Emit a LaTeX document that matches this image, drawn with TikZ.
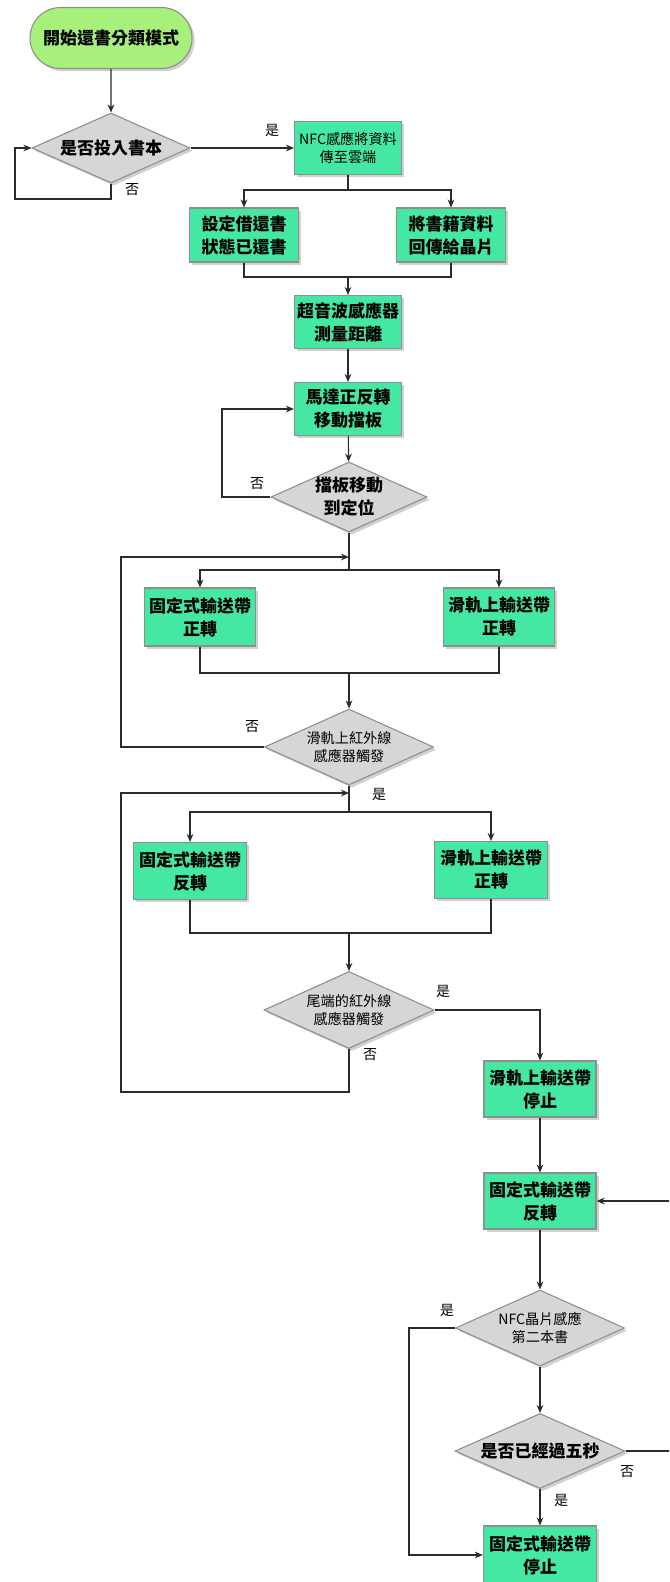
\documentclass[tikz,border=0pt]{standalone}
\usepackage{fontspec}
\setmainfont{Noto Sans CJK TC}
\usetikzlibrary{shapes.geometric,shapes.misc,arrows.meta,shadows}
\definecolor{gbox}{HTML}{45E8A2}
\definecolor{gstart}{HTML}{A7F07B}
\definecolor{gdia}{HTML}{D6D6D6}
\definecolor{bline}{HTML}{8E8E8E}
\definecolor{conn}{HTML}{2B2B2B}
\begin{document}
\begin{tikzpicture}[x=0.75pt,y=-0.75pt,
  shad/.style={drop shadow={shadow xshift=2pt,shadow yshift=-2pt,opacity=0.3,fill=black!60}},
  bigb/.style={font=\fontsize{12.75}{17.25}\selectfont\bfseries},
  smallt/.style={font=\fontsize{10.6}{14}\selectfont},
  lab/.style={font=\fontsize{10.5}{12}\selectfont, inner sep=0pt},
  box/.style={draw=bline, line width=0.8pt, fill=gbox, shad, align=center, inner sep=0pt, bigb},
  dia/.style={diamond, draw=bline, line width=0.8pt, fill=gdia, shad, inner sep=0pt},
  dtext/.style={align=center, inner sep=0pt, bigb},
  dsmall/.style={align=center, inner sep=0pt, smallt},
  ln/.style={draw=conn, line width=0.85pt},
  arr/.style={ln, -{Stealth[length=6pt,width=5pt]}}
]
\fill[white] (0,0) rectangle (669,1582);
\clip (0,0) rectangle (669,1582);

% nodes
\node[rounded rectangle, draw=bline, line width=0.8pt, fill=gstart, shad, minimum width=121.5pt, minimum height=45.75pt, inner sep=0pt, bigb] (start) at (111,38) {開始還書分類模式};
\node[dia, minimum width=118.5pt, minimum height=52.5pt, label={[dtext]center:是否投入書本}] (d1) at (111,148) {};
\node[box, minimum width=80.25pt, minimum height=39.75pt, smallt] (nfc) at (348,148) {NFC感應將資料\\傳至雲端};
\node[box, minimum width=81.75pt, minimum height=40.5pt] (a) at (244,235) {設定借還書\\狀態已還書};
\node[box, minimum width=81.75pt, minimum height=40.5pt] (b) at (451,235) {將書籍資料\\回傳給晶片};
\node[box, minimum width=80.25pt, minimum height=39.75pt] (us) at (348,322) {超音波感應器\\測量距離};
\node[box, minimum width=80.25pt, minimum height=39.75pt] (motor) at (348,409) {馬達正反轉\\移動擋板};
\node[dia, minimum width=117pt, minimum height=52.5pt, label={[dtext]center:擋板移動\\到定位}] (d2) at (349,497) {};
\node[box, minimum width=83.25pt, minimum height=43.5pt] (c) at (200,617) {固定式輸送帶\\正轉};
\node[box, minimum width=83.25pt, minimum height=43.5pt] (dd) at (499,617) {滑軌上輸送帶\\正轉};
\node[dia, minimum width=126.75pt, minimum height=57pt, label={[dsmall]center:滑軌上紅外線\\感應器觸發}] (d3) at (349,747) {};
\node[box, minimum width=84.75pt, minimum height=42.75pt] (e) at (190,871) {固定式輸送帶\\反轉};
\node[box, minimum width=84.75pt, minimum height=42.75pt] (f) at (491,870) {滑軌上輸送帶\\正轉};
\node[dia, minimum width=127.5pt, minimum height=57.75pt, label={[dsmall]center:尾端的紅外線\\感應器觸發}] (d4) at (349,1010) {};
\node[box, minimum width=84pt, minimum height=42pt] (g) at (540,1089) {滑軌上輸送帶\\停止};
\node[box, minimum width=84pt, minimum height=42pt] (h) at (540,1201) {固定式輸送帶\\反轉};
\node[dia, minimum width=126.75pt, minimum height=57pt, label={[dsmall]center:NFC晶片感應\\第二本書}] (d5) at (540,1328) {};
\node[dia, minimum width=127.5pt, minimum height=56.25pt, label={[dtext]center:是否已經過五秒}] (d6) at (540,1451) {};
\node[box, minimum width=85pt, minimum height=43.5pt] (i) at (540,1555) {固定式輸送帶\\停止};

% labels
\node[lab] (l1) at (132,190) {否};
\node[lab] (l2) at (272,130) {是};
\node[lab] (l3) at (257,484) {否};
\node[lab] (l4) at (252,727) {否};
\node[lab] (l5) at (379,794) {是};
\node[lab] (l6) at (443,991) {是};
\node[lab] (l7) at (370,1055) {否};
\node[lab] (l8) at (447,1310) {是};
\node[lab] (l9) at (627,1472) {否};
\node[lab] (l10) at (561,1500) {是};

% coordinates
\coordinate (c1) at (15,199);
\coordinate (s1) at (348,190);
\coordinate (m1) at (348,277);
\coordinate (c2) at (222,497);
\coordinate (j2) at (349,557);
\coordinate (s2) at (349,570);
\coordinate (m2) at (349,673);
\coordinate (c3) at (121,557);
\coordinate (j3) at (349,793);
\coordinate (s3) at (349,812);
\coordinate (m3) at (349,933);
\coordinate (c4) at (121,1092);
\coordinate (c5) at (409,1555);
\coordinate (c6) at (676,1451);
\coordinate (c7) at (676,1201);

% connectors
\draw[arr] (start) -- (d1);
\draw[arr] (d1.south) |- (c1) |- (d1.west);
\draw[arr] (d1.east) -- (nfc.west);
\draw[ln] (nfc.south) -- (s1);
\draw[arr] (s1) -| (a.north);
\draw[arr] (s1) -| (b.north);
\draw[ln] (a.south) |- (m1);
\draw[ln] (b.south) |- (m1);
\draw[arr] (m1) -- (us.north);
\draw[arr] (us) -- (motor);
\draw[arr] (motor) -- (d2);
\draw[arr] (d2.west) -- (c2) |- (motor.west);
\draw[ln] (d2.south) -- (s2);
\draw[arr] (s2) -| (c.north);
\draw[arr] (s2) -| (dd.north);
\draw[ln] (c.south) |- (m2);
\draw[ln] (dd.south) |- (m2);
\draw[arr] (m2) -- (d3.north);
\draw[arr] (d3.west) -| (c3) -- (j2);
\draw[ln] (d3.south) -- (s3);
\draw[arr] (s3) -| (e.north);
\draw[arr] (s3) -| (f.north);
\draw[ln] (e.south) |- (m3);
\draw[ln] (f.south) |- (m3);
\draw[arr] (m3) -- (d4.north);
\draw[arr] (d4.east) -| (g.north);
\draw[arr] (d4.south) |- (c4) |- (j3);
\draw[arr] (g) -- (h);
\draw[arr] (h) -- (d5);
\draw[arr] (d5) -- (d6);
\draw[arr] (d6) -- (i);
\draw[arr] (d5.west) -| (c5) -- (i.west);
\draw[arr] (d6.east) -- (c6) -- (c7) -- (h.east);
\end{tikzpicture}
\end{document}
